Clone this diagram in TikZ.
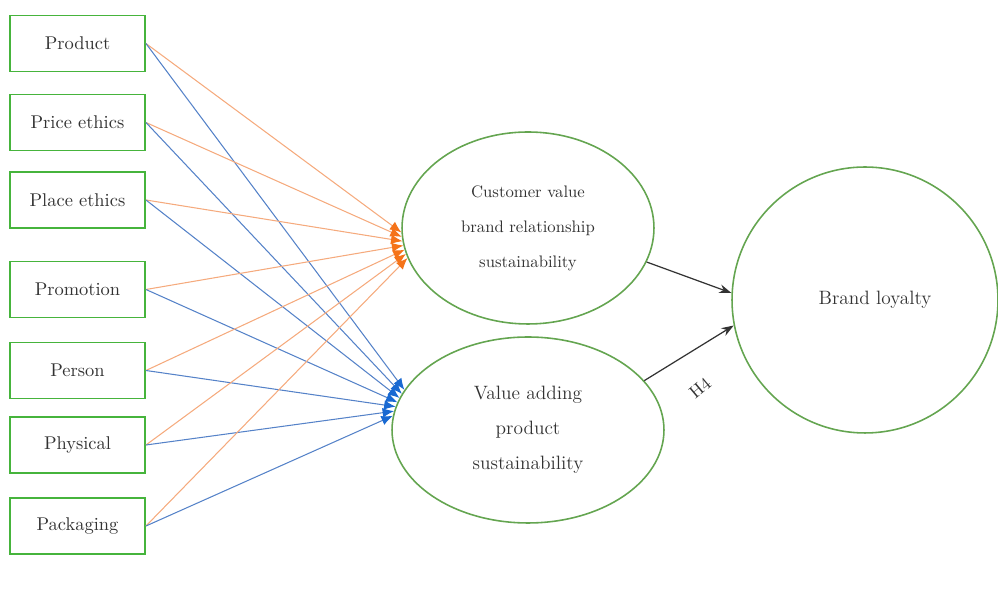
\documentclass[tikz,border=0pt]{standalone}
\usepackage{xcolor}
\usepackage{tikz}
\usetikzlibrary{arrows.meta,shapes.geometric,positioning}

\begin{document}
\begin{tikzpicture}[x=0.02cm, y=-0.02cm, >=Stealth]

  % Define colors
  \definecolor{boxgreen}{RGB}{70,180,60}
  \definecolor{ovalgreen}{RGB}{100,165,80}
  \definecolor{lineorange}{RGB}{245,170,125}
  \definecolor{tiporange}{RGB}{245,115,25}
  \definecolor{lineblue}{RGB}{85,130,200}
  \definecolor{tipblue}{RGB}{25,105,210}
  \definecolor{textgray}{RGB}{50,50,50}

  \tikzset{
    mixbox/.style={draw=boxgreen, line width=1.1pt, minimum width=2.7cm,
      minimum height=1.12cm, inner sep=0pt, text=textgray,
      font=\fontsize{10.5}{12}\selectfont},
    oval/.style={ellipse, draw=ovalgreen, line width=0.9pt, inner sep=0pt,
      align=center, text=textgray},
    orangeline/.style={lineorange, line width=0.6pt,
      -{Latex[length=6.5pt,width=5.5pt,color=tiporange]}},
    blueline/.style={lineblue, line width=0.6pt,
      -{Latex[length=6.5pt,width=5.5pt,color=tipblue]}},
    blackline/.style={black!80, line width=0.7pt,
      -{Stealth[length=7pt,width=5pt]}}
  }

  \useasboundingbox (0,0) rectangle (998,590);

  % Marketing mix boxes
  \node[mixbox] (prod)   at (77.5, 43.5)  {Product};
  \node[mixbox] (price)  at (77.5, 122.5) {Price ethics};
  \node[mixbox] (place)  at (77.5, 200)   {Place ethics};
  \node[mixbox] (promo)  at (77.5, 289.5) {Promotion};
  \node[mixbox] (person) at (77.5, 370.5) {Person};
  \node[mixbox] (phys)   at (77.5, 445)   {Physical};
  \node[mixbox] (pack)   at (77.5, 526)   {Packaging};

  % Mediators
  \node[oval, minimum width=5.04cm, minimum height=3.84cm,
    font=\fontsize{9.5}{20}\selectfont] (cv) at (528, 228)
    {Customer value\\brand relationship\\sustainability};
  \node[oval, minimum width=5.44cm, minimum height=3.72cm,
    font=\fontsize{11}{20}\selectfont] (va) at (528, 430)
    {Value adding\\product\\sustainability};

  % Outcome
  \node[circle, draw=ovalgreen, line width=0.9pt, minimum size=5.32cm,
    inner sep=0pt, text=textgray, font=\fontsize{11}{13}\selectfont]
    (bl) at (865, 300) {\hspace{0.4cm}Brand loyalty};

  % Paths to the mediators
  \foreach \s [count=\i from 0, evaluate=\i as \a using int(182+2*\i),
      evaluate=\i as \b using int(162+2*\i)]
      in {prod,price,place,promo,person,phys,pack} {
    \draw[orangeline] (\s.east) -- (cv.\a);
    \draw[blueline] (\s.east) -- (va.\b);
  }

  % Paths to brand loyalty
  \draw[blackline] (cv.344) -- (bl.177);
  \draw[blackline] (va.23) -- (bl.191);
  \node[rotate=40, text=textgray, font=\fontsize{10}{12}\selectfont]
    (h4) at (700, 388) {H4};

\end{tikzpicture}
\end{document}
